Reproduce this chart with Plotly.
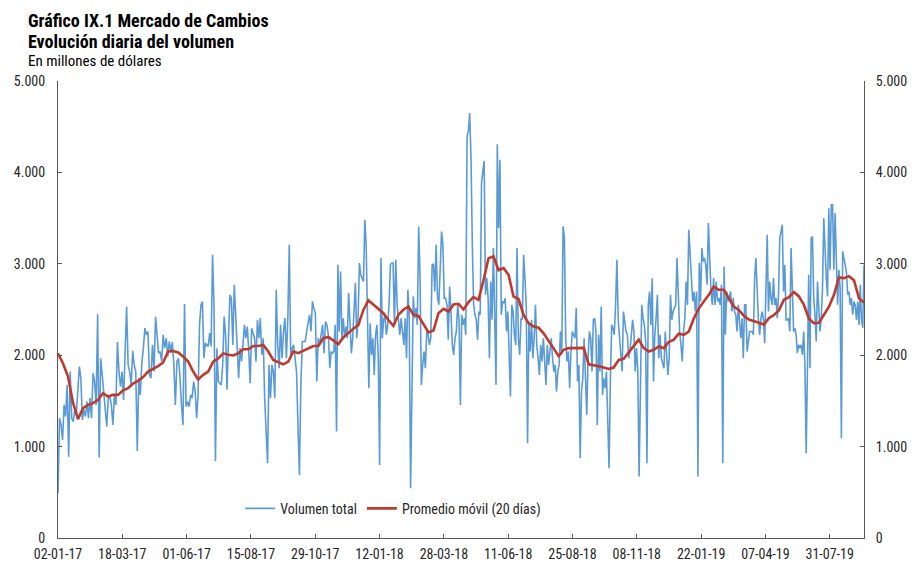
import pandas as pd
import plotly.graph_objects as go

# ---------------- data ----------------
# Daily total volume (millions of USD), read in six consecutive stretches of the x axis
vol_seg1 = [490, 1310, 1237, 1073, 1456, 1329, 1675, 890, 1821, 1310, 1274, 1402, 1347, 1566, 1876, 1748,
            1292, 1402, 1329, 1493, 1310, 1530, 1310, 1803, 1712, 1456, 2449, 880, 1967, 1785, 1602, 1456,
            1219, 1530, 1548, 1456, 1237, 1566, 1456, 2143, 1821, 1657, 1821, 1511, 2186, 2533, 1894, 1821,
            1675, 2048, 1894, 1821, 953, 1748, 1566, 1913, 2077, 2296, 2223, 2259, 1785, 1748, 2113, 1821,
            2420, 2259, 2022, 2040, 1931, 2223, 2077, 2186, 1986, 2150, 2040, 2143, 1894, 1456, 1931, 1967,
            1767, 1456, 1237, 2559, 1438, 1493, 1438, 1566, 1530, 1712]
vol_seg2 = [1602, 1310, 1566, 2332, 2551, 2588, 1967, 2132, 2113, 2095, 2241, 2095, 3099, 2551, 843, 2077,
            1712, 1694, 1675, 1894, 2424, 2223, 1621, 2186, 2661, 2624, 2113, 2770, 2405, 2040, 1748, 2077,
            1931, 2113, 2332, 2186, 2314, 2040, 1694, 2296, 2223, 2186, 1931, 2387, 2186, 2405, 2004, 2186,
            1530, 1237, 818, 1894, 1530, 1894, 1821, 1530, 2716, 2113, 1858, 2332, 1967, 2259, 2405, 1967,
            2405, 3208, 1967, 2077, 2113, 1967, 1821, 1237, 690, 1675, 2150, 2150, 2150, 2259, 2332, 2442,
            2259, 2588, 2515, 2460, 1712, 2186, 2113, 2223, 2332, 2022, 2369, 2332, 2223]
vol_seg3 = [1858, 2040, 2022, 2040, 2332, 1164, 2989, 2259, 2916, 2186, 2405, 2186, 2314, 2186, 2679, 2387,
            2022, 2186, 2478, 2789, 2186, 2405, 3008, 2880, 2843, 2807, 3482, 3208, 2405, 1639, 2350, 2004,
            2186, 1785, 2223, 2332, 1967, 799, 3062, 2186, 2387, 2442, 2223, 2332, 2551, 2989, 3008, 3008,
            2332, 3044, 2551, 2405, 2223, 2405, 2259, 2113, 2405, 1967, 2716, 2405, 544, 1967, 2643, 2405,
            2515, 2332, 3409, 2880, 1675, 1894, 2040, 1858, 2259, 2223, 2113, 2186, 2989, 3000, 2697, 3208,
            2624, 2551, 2989, 3354, 3208, 2624, 2624, 2551, 2168, 2752, 2478, 2113, 2004, 2186, 2259, 2551,
            2387, 1456, 2442, 2332]
vol_seg4 = [2405, 2223, 4395, 4450, 4650, 4161, 3208, 2551, 2442, 2387, 2168, 2478, 2442, 3883, 4011, 4124,
            2661, 2843, 2624, 1967, 2807, 2387, 3172, 2478, 1675, 4307, 3391, 4139, 2442, 2588, 2570, 2624,
            2259, 2478, 2040, 1548, 2551, 2478, 2223, 2113, 3172, 2186, 2004, 2405, 2387, 3099, 2843, 2551,
            1037, 2332, 2040, 2387, 1967, 2186, 2551, 2113, 1967, 1785, 2113, 1931, 2186, 1967, 1675, 2113,
            1894, 2040, 2186, 1967, 1821, 1894, 1602, 1821, 1894, 2259, 2004, 3409, 3281, 2186, 1931, 2040,
            1639, 2040, 2259, 2223, 2186, 2515, 1712, 1894, 872, 1602, 1748, 2186, 1639, 1347, 1967, 2259,
            2186, 1821, 2387, 2405, 2259, 1237, 2223]
vol_seg5 = [1821, 2533, 1566, 1748, 1639, 1821, 1347, 763, 1712, 2332, 2296, 2223, 2551, 3044, 2387, 2186,
            1967, 1821, 2478, 2332, 2259, 2223, 1967, 2040, 2186, 2387, 2259, 1821, 2077, 1821, 672, 1821,
            2551, 2405, 2332, 2150, 818, 2551, 2697, 2332, 2843, 1712, 2223, 2405, 2661, 1967, 2223, 1967,
            1894, 1858, 2259, 2004, 1785, 1967, 2661, 2387, 2478, 2515, 2551, 3062, 2697, 2259, 2113, 1931,
            2259, 2405, 2807, 2551, 3372, 3135, 2880, 2588, 2697, 2478, 2697, 672, 3008, 2588, 3172, 3026,
            3062, 2989, 2770, 3446, 3062, 2697, 2551, 2843, 2551, 2807, 2588, 2624, 2551, 2770, 818, 2971,
            2223, 2697, 2588, 2624, 2697, 2478, 2624]
vol_seg6 = [2478, 2442, 2259, 2551, 2387, 2186, 2405, 1967, 2551, 2551, 2040, 2186, 2259, 2259, 2259, 2223,
            2843, 3062, 2624, 2387, 2223, 2405, 2478, 2387, 2132, 2624, 3318, 2478, 2807, 2624, 2551, 2843,
            2551, 2624, 2405, 2661, 3281, 3354, 3427, 2697, 2989, 2387, 2387, 2405, 2259, 3172, 2697, 2259,
            2296, 2223, 2022, 2113, 2077, 2113, 2004, 2259, 1894, 927, 1840, 2880, 1858, 3281, 3299, 2624,
            2442, 2150, 2807, 2551, 2259, 2405, 2734, 3500, 3062, 2843, 2643, 3609, 2934, 3646, 3646, 2934,
            3555, 2934, 2551, 2934, 2734, 1091, 3135, 3062, 2989, 2916, 2661, 2697, 2551, 2624, 2442, 2588,
            2551, 2387, 2588, 2332, 2770, 2387, 2300, 2990]

# Date boundaries of the six stretches
seg_dates = ["2017-01-02", "2017-06-11", "2017-11-15", "2018-04-21", "2018-09-26", "2019-03-02", "2019-07-31"]

# 20-day moving average (read at regular steps along the axis)
ma_values = [2020, 1910, 1767, 1480, 1300, 1420, 1456, 1475, 1511, 1584, 1548, 1566, 1566, 1615, 1639, 1690,
             1720, 1760, 1820, 1850, 1880, 1920, 2040, 2045, 2030, 1985, 1931,
             1821, 1735, 1785, 1821, 1930, 1965, 2020, 2004, 1997, 2020, 2065, 2065, 2100, 2100, 2113, 2040,
             1949, 1920, 1900, 1930, 2040, 2022, 2050, 2070, 2100, 2100, 2186,
             2200, 2160, 2121, 2195, 2245, 2290, 2332, 2495, 2600, 2550, 2505, 2460, 2385, 2320, 2442, 2497,
             2533, 2442, 2430, 2340, 2250, 2270, 2460, 2508, 2478, 2555, 2562,
             2500, 2580, 2635, 2606, 2820, 3062, 3081, 2930, 2953, 2880, 2640, 2615, 2440, 2350, 2314, 2300,
             2240, 2150, 2075, 1990, 2059, 2077, 2077, 2084, 2080, 1900, 1894,
             1880, 1865, 1850, 1865, 1949, 1960, 2030, 2113, 2170, 2077, 2040, 2059, 2095, 2077, 2145, 2170,
             2235, 2223, 2259, 2400, 2510, 2588, 2660, 2750, 2716, 2716, 2620,
             2533, 2495, 2430, 2390, 2375, 2355, 2335, 2405, 2440, 2490, 2606, 2635, 2690, 2643, 2550, 2400,
             2350, 2355, 2442, 2530, 2661, 2850, 2843, 2865, 2820, 2624, 2575]

tick_labels = ["02-01-17", "18-03-17", "01-06-17", "15-08-17", "29-10-17", "12-01-18", "28-03-18",
               "11-06-18", "25-08-18", "08-11-18", "22-01-19", "07-04-19", "31-07-19"]
y_ticks = [0, 1000, 2000, 3000, 4000, 5000]

# ---------------- build x values ----------------
segments = [vol_seg1, vol_seg2, vol_seg3, vol_seg4, vol_seg5, vol_seg6]
vol_x, vol_y = [], []
for i, seg in enumerate(segments):
    last = i == len(segments) - 1
    rng = pd.date_range(seg_dates[i], seg_dates[i + 1], periods=len(seg) + (0 if last else 1))
    if not last:
        rng = rng[:-1]
    vol_x.extend(rng)
    vol_y.extend(seg)

ma_x = pd.date_range(seg_dates[0], seg_dates[-1], periods=len(ma_values))
tick_vals = pd.date_range(seg_dates[0], periods=len(tick_labels), freq="75D")

FONT = "Roboto Condensed, Liberation Sans Narrow, Arial Narrow, Roboto, sans-serif"
AXIS_COLOR = "#595959"

fig = go.Figure()
fig.add_trace(go.Scatter(x=vol_x, y=vol_y, mode="lines", name="Volumen total",
                         line=dict(color="#5B9BD5", width=1.6)))
fig.add_trace(go.Scatter(x=ma_x, y=ma_values, mode="lines", name="Promedio móvil (20 días)",
                         line=dict(color="#C0392B", width=2.6)))
# invisible trace for right axis
fig.add_trace(go.Scatter(x=[vol_x[0]], y=[0], yaxis="y2", showlegend=False, hoverinfo="skip",
                         mode="markers", marker=dict(opacity=0)))

axis_common = dict(showgrid=False, zeroline=False, showline=True, linecolor=AXIS_COLOR, linewidth=1,
                   ticks="inside", ticklen=4, tickcolor=AXIS_COLOR, automargin=False,
                   tickfont=dict(family=FONT, size=14, color="#262626"))

# The page body adds an 8 px offset, so the figure is sized to the visible area
fig.update_layout(
    width=907, height=556,
    margin=dict(l=50, r=51, t=73, b=26),
    paper_bgcolor="white", plot_bgcolor="white",
    separators=",.",
    font=dict(family=FONT, color="#262626"),
    xaxis=dict(range=[seg_dates[0], seg_dates[-1]], tickvals=tick_vals, ticktext=tick_labels,
               ticklabelstandoff=3, **axis_common),
    yaxis=dict(range=[0, 5000], tickvals=y_ticks, tickformat=",d", ticklabelstandoff=9,
               **axis_common),
    yaxis2=dict(range=[0, 5000], tickvals=y_ticks, tickformat=",d", overlaying="y", side="right",
                ticklabelstandoff=8, **axis_common),
    legend=dict(orientation="h", x=0.226, y=0.064, xanchor="left", yanchor="middle",
                font=dict(family=FONT, size=14, color="#262626"), bgcolor="rgba(0,0,0,0)",
                itemwidth=30, tracegroupgap=0),
    showlegend=True,
    annotations=[
        dict(text="<b>Gráfico IX.1 Mercado de Cambios</b>", xref="paper", yref="paper",
             x=-0.0397, y=1.0, yshift=61, xanchor="left", yanchor="middle", showarrow=False,
             font=dict(family=FONT, size=18, color="#000000")),
        dict(text="<b>Evolución diaria del volumen</b>", xref="paper", yref="paper",
             x=-0.0397, y=1.0, yshift=40, xanchor="left", yanchor="middle", showarrow=False,
             font=dict(family=FONT, size=18, color="#000000")),
        dict(text="En millones de dólares", xref="paper", yref="paper",
             x=-0.0397, y=1.0, yshift=20, xanchor="left", yanchor="middle", showarrow=False,
             font=dict(family=FONT, size=15, color="#000000")),
    ],
)

fig.write_html("out.html")
